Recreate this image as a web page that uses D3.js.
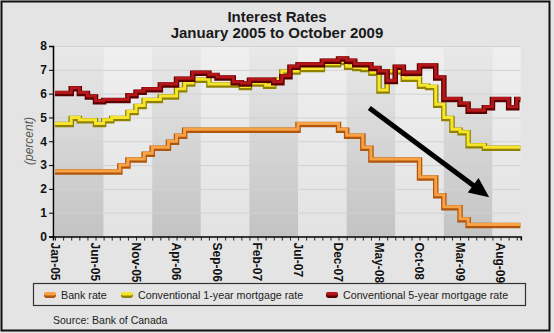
<!DOCTYPE html>
<html><head><meta charset="utf-8">
<script src="https://cdn.jsdelivr.net/npm/d3@7"></script>
<style>body{margin:0;background:#fff}svg{display:block;font-family:"Liberation Sans",Arial,sans-serif}</style>
</head><body><svg id="c" width="554" height="333"></svg>
<script>
const months = ["Jan-05","Feb-05","Mar-05","Apr-05","May-05","Jun-05","Jul-05","Aug-05","Sep-05","Oct-05","Nov-05","Dec-05",
"Jan-06","Feb-06","Mar-06","Apr-06","May-06","Jun-06","Jul-06","Aug-06","Sep-06","Oct-06","Nov-06","Dec-06",
"Jan-07","Feb-07","Mar-07","Apr-07","May-07","Jun-07","Jul-07","Aug-07","Sep-07","Oct-07","Nov-07","Dec-07",
"Jan-08","Feb-08","Mar-08","Apr-08","May-08","Jun-08","Jul-08","Aug-08","Sep-08","Oct-08","Nov-08","Dec-08",
"Jan-09","Feb-09","Mar-09","Apr-09","May-09","Jun-09","Jul-09","Aug-09","Sep-09","Oct-09"];
const bankRate = [2.75,2.75,2.75,2.75,2.75,2.75,2.75,2.75,3.00,3.25,3.25,3.50,
3.75,3.75,4.00,4.25,4.50,4.50,4.50,4.50,4.50,4.50,4.50,4.50,
4.50,4.50,4.50,4.50,4.50,4.50,4.75,4.75,4.75,4.75,4.75,4.50,
4.25,4.25,3.75,3.25,3.25,3.25,3.25,3.25,3.25,2.50,2.50,1.75,
1.25,1.25,0.75,0.50,0.50,0.50,0.50,0.50,0.50,0.50];
const oneYear = [4.75,4.75,5.00,4.90,4.90,4.75,4.90,5.00,5.00,5.25,5.50,5.75,
5.75,5.90,5.90,6.20,6.45,6.60,6.60,6.40,6.40,6.40,6.40,6.30,
6.45,6.45,6.35,6.60,6.95,6.95,7.05,7.05,7.05,7.25,7.25,7.35,
7.15,7.10,7.05,6.90,6.15,6.95,6.95,6.65,6.65,6.35,6.30,5.55,
5.00,4.50,4.40,3.85,3.85,3.75,3.75,3.75,3.75,3.75];
const fiveYear = [6.05,6.05,6.25,6.05,5.90,5.70,5.75,5.75,5.75,5.95,6.10,6.20,
6.20,6.40,6.40,6.65,6.65,6.90,6.90,6.80,6.70,6.70,6.50,6.45,
6.60,6.60,6.60,6.50,6.75,7.15,7.25,7.25,7.25,7.40,7.40,7.50,
7.40,7.25,7.25,7.10,6.95,6.55,7.15,6.90,6.90,7.20,7.20,6.70,
5.80,5.80,5.60,5.30,5.30,5.45,5.80,5.80,5.45,5.80];
const tickLabels = ["Jan-05","Jun-05","Nov-05","Apr-06","Sep-06","Feb-07","Jul-07","Dec-07","May-08","Oct-08","Mar-09","Aug-09"];
const yTicks = [0,1,2,3,4,5,6,7,8];
const seriesNames = ["Bank rate","Conventional 1-year mortgage rate","Conventional 5-year mortgage rate"];
const arrowFrom = [38.8, 5.4];
const arrowTo = [53.6, 1.65];

const svg = d3.select("#c");
const x = d3.scaleLinear().domain([-0.25, 57.5]).range([53, 520.8]);
const y = d3.scaleLinear().domain([0, 8]).range([236.5, 46]);

// background
svg.append("rect").attr("x",0).attr("y",0).attr("width",554).attr("height",333).attr("fill","#e4e4e4");
svg.append("rect").attr("x",1.5).attr("y",1.5).attr("width",548).attr("height",329).attr("fill","none").attr("stroke","#111").attr("stroke-width",2);

const defs = svg.append("defs");
const gd = defs.append("linearGradient").attr("id","gDark").attr("x1",0).attr("y1",0).attr("x2",0).attr("y2",1);
gd.append("stop").attr("offset","0%").attr("stop-color","#e9e9e9");
gd.append("stop").attr("offset","100%").attr("stop-color","#c3c3c3");
const gl = defs.append("linearGradient").attr("id","gLight").attr("x1",0).attr("y1",0).attr("x2",0).attr("y2",1);
gl.append("stop").attr("offset","0%").attr("stop-color","#efefef");
gl.append("stop").attr("offset","100%").attr("stop-color","#e3e3e3");

// half-year bands
const bandStarts = d3.range(0, 58, 6);
svg.append("g").selectAll("rect").data(bandStarts).join("rect")
  .attr("x", d => x(Math.max(d, -0.25)))
  .attr("y", y(8))
  .attr("width", d => x(Math.min(d+6, 57.5)) - x(Math.max(d,-0.25)))
  .attr("height", y(0)-y(8))
  .attr("fill", (d,i) => i%2===0 ? "url(#gDark)" : "url(#gLight)");

// gridlines
svg.append("g").selectAll("line").data(yTicks.slice(1)).join("line")
  .attr("x1", x(-0.25)).attr("x2", x(57.5))
  .attr("y1", d => y(d)+0.5).attr("y2", d => y(d)+0.5)
  .attr("stroke", "#d2d2d2").attr("stroke-width", 1);

// lines
const idx = d3.range(months.length);
function pts(vals){ const p = idx.map(i => [i, vals[i]]); p.push([57.45, vals[vals.length-1]]); return p; }
const line = d3.line().x(d => x(d[0])).y(d => y(d[1])).curve(d3.curveStepAfter);
const styles = [
  {vals: bankRate, dark: "#b0550c", light: "#f7a245"},
  {vals: oneYear, dark: "#8f8200", light: "#f6e52c"},
  {vals: fiveYear, dark: "#5a0000", light: "#b5161a"}
];
const lg = svg.append("g").attr("fill","none").attr("stroke-linejoin","miter");
styles.forEach(s => {
  lg.append("path").attr("d", line(pts(s.vals))).attr("transform","translate(0,1)")
    .attr("stroke", s.dark).attr("stroke-width", 5.5);
  lg.append("path").attr("d", line(pts(s.vals)))
    .attr("stroke", s.light).attr("stroke-width", 3);
});

// arrow
const ax1 = x(arrowFrom[0]), ay1 = y(arrowFrom[1]), ax2 = x(arrowTo[0]), ay2 = y(arrowTo[1]);
const ang = Math.atan2(ay2-ay1, ax2-ax1);
const headL = 20, headW = 9;
const bx = ax2 - headL*Math.cos(ang), by = ay2 - headL*Math.sin(ang);
svg.append("line").attr("x1",ax1).attr("y1",ay1).attr("x2",bx+2*Math.cos(ang)).attr("y2",by+2*Math.sin(ang))
  .attr("stroke","#000").attr("stroke-width",5);
svg.append("path").attr("fill","#000")
  .attr("d", `M${ax2},${ay2}L${bx - headW*Math.sin(ang)},${by + headW*Math.cos(ang)}L${bx + headW*Math.sin(ang)},${by - headW*Math.cos(ang)}Z`);

// y axis
const yAxis = svg.append("g").attr("transform","translate(53,0)")
  .call(d3.axisLeft(y).tickValues(yTicks).tickSize(4).tickPadding(2).tickFormat(d3.format("d")));
yAxis.select(".domain").attr("stroke","#000").attr("stroke-width",1.5);
yAxis.selectAll("text").attr("font-size",12).attr("font-weight","bold").attr("fill","#111").attr("font-family","Liberation Sans, Arial, sans-serif");

// x axis minor ticks
const xAxis = svg.append("g").attr("transform",`translate(0,${y(0)})`)
  .call(d3.axisBottom(x).tickValues(idx).tickSize(4).tickFormat(""));
xAxis.select(".domain").attr("stroke","#000").attr("stroke-width",1.5);
xAxis.selectAll(".tick line").attr("stroke","#222");

// x labels
svg.append("g").selectAll("text").data(tickLabels).join("text")
  .attr("transform", d => `translate(${x(months.indexOf(d))-4.5},${y(0)+6}) rotate(90)`)
  .attr("font-size",12).attr("font-weight","bold").attr("fill","#111")
  .text(d => d);

// y label
svg.append("text").attr("transform","translate(33,141) rotate(-90)")
  .attr("text-anchor","middle").attr("font-size",12).attr("font-style","italic").attr("fill","#555")
  .text("(percent)");

// title
svg.append("text").attr("x",277).attr("y",22).attr("text-anchor","middle")
  .attr("font-size",15).attr("font-weight","bold").attr("fill","#1a1a1a").text("Interest Rates");
svg.append("text").attr("x",277).attr("y",37.5).attr("text-anchor","middle")
  .attr("font-size",15).attr("font-weight","bold").attr("fill","#1a1a1a").text("January 2005 to October 2009");

// legend
svg.append("rect").attr("x",33.5).attr("y",283.5).attr("width",492).attr("height",22)
  .attr("fill","none").attr("stroke","#333").attr("stroke-width",1.2);
const legX = [44, 121, 326];
const leg = svg.append("g").selectAll("g").data(seriesNames).join("g")
  .attr("transform",(d,i)=>`translate(${legX[i]},295)`);
leg.append("rect").attr("x",0).attr("y",-2.5).attr("width",12).attr("height",5.5).attr("rx",2.7)
  .attr("fill",(d,i)=>styles[i].dark);
leg.append("rect").attr("x",0).attr("y",-3).attr("width",12).attr("height",3.5).attr("rx",1.75)
  .attr("fill",(d,i)=>styles[i].light);
leg.append("text").attr("x",17).attr("y",4).attr("font-size",10.7).attr("fill","#222").text(d=>d);

svg.append("text").attr("x",53).attr("y",324).attr("font-size",10.5).attr("fill","#222").text("Source:  Bank of Canada");
</script></body></html>
